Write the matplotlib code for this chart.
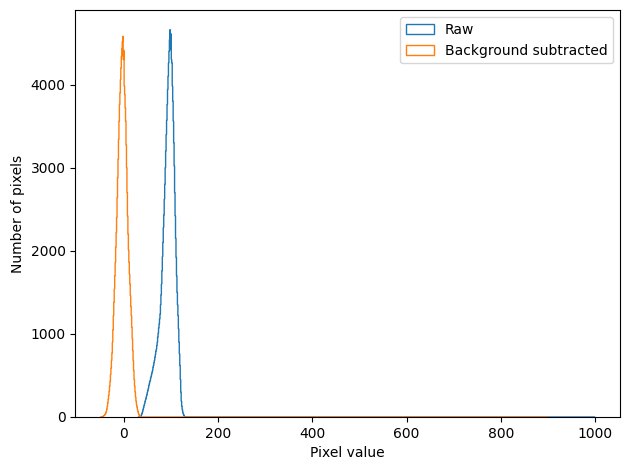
import numpy as np
import matplotlib
matplotlib.use("Agg")
import matplotlib.pyplot as plt

# Raw histogram: counts per unit-width bin starting at raw_start
raw_start = 30
raw_end = 1000
raw_counts = [0, 0, 0, 0, 0, 0,
              5, 20, 35, 50, 70, 95, 115, 140, 160, 185,
              205, 225, 250, 270, 300, 320, 345, 375, 400, 425,
              440, 470, 490, 515, 540, 560, 600, 620, 655, 680,
              720, 750, 790, 815, 860, 900, 960, 1010, 1070, 1120,
              1180, 1240, 1350, 1470, 1600, 1760, 1930, 2100, 2280, 2430,
              2620, 2800, 3000, 3200, 3400, 3570, 3760, 3940, 4100, 4260,
              4400, 4540, 4660, 4420, 4610, 4300, 4260, 3980, 3800, 3560,
              3300, 3020, 2700, 2420, 2150, 1920, 1700, 1500, 1350, 1220,
              1060, 900, 760, 620, 450, 300, 190, 130, 90, 60,
              40, 25, 12, 5, 0, 0, 0, 0, 0]

# Background-subtracted histogram
sub_start = -50
sub_end = 900
sub_counts = [0, 0, 0, 0,
              3, 5, 8, 12, 16, 22, 30, 40, 52, 70,
              95, 130, 170, 215, 260, 310, 370, 430, 510, 590,
              680, 770, 900, 1050, 1220, 1380, 1540, 1700, 1860, 2040,
              2220, 2400, 2640, 2880, 3100, 3340, 3560, 3760, 3900, 4060,
              4200, 4340, 4430, 4520, 4580, 4300, 4410, 3980, 3880, 3720,
              3560, 3270, 3000, 2700, 2420, 2200, 2010, 1860, 1720, 1600,
              1460, 1330, 1220, 1080, 940, 800, 680, 560, 450, 370,
              300, 240, 190, 150, 120, 90, 65, 45, 30, 18,
              10, 5, 2, 0, 0, 0]


def build(start, end, counts):
    edges = np.concatenate([np.arange(start, start + len(counts) + 1), [end]])
    weights = np.concatenate([np.asarray(counts, float), [0.0]])
    centers = 0.5 * (edges[:-1] + edges[1:])
    return centers, edges, weights


fig, ax = plt.subplots(figsize=(6.3, 4.7), dpi=100)
fig.subplots_adjust(left=75.3 / 630, right=620 / 630,
                    bottom=(470 - 417) / 470, top=(470 - 10.3) / 470)
c, e, w = build(raw_start, raw_end, raw_counts)
_, _, p1 = ax.hist(c, bins=e, weights=w, histtype='step', label='Raw')
c, e, w = build(sub_start, sub_end, sub_counts)
_, _, p2 = ax.hist(c, bins=e, weights=w, histtype='step', label='Background subtracted')
for p in list(p1) + list(p2):
    p.set_snap(False)
ax.set_xlabel('Pixel value')
ax.set_ylabel('Number of pixels')
ax.legend()
fig.savefig('out.png')
